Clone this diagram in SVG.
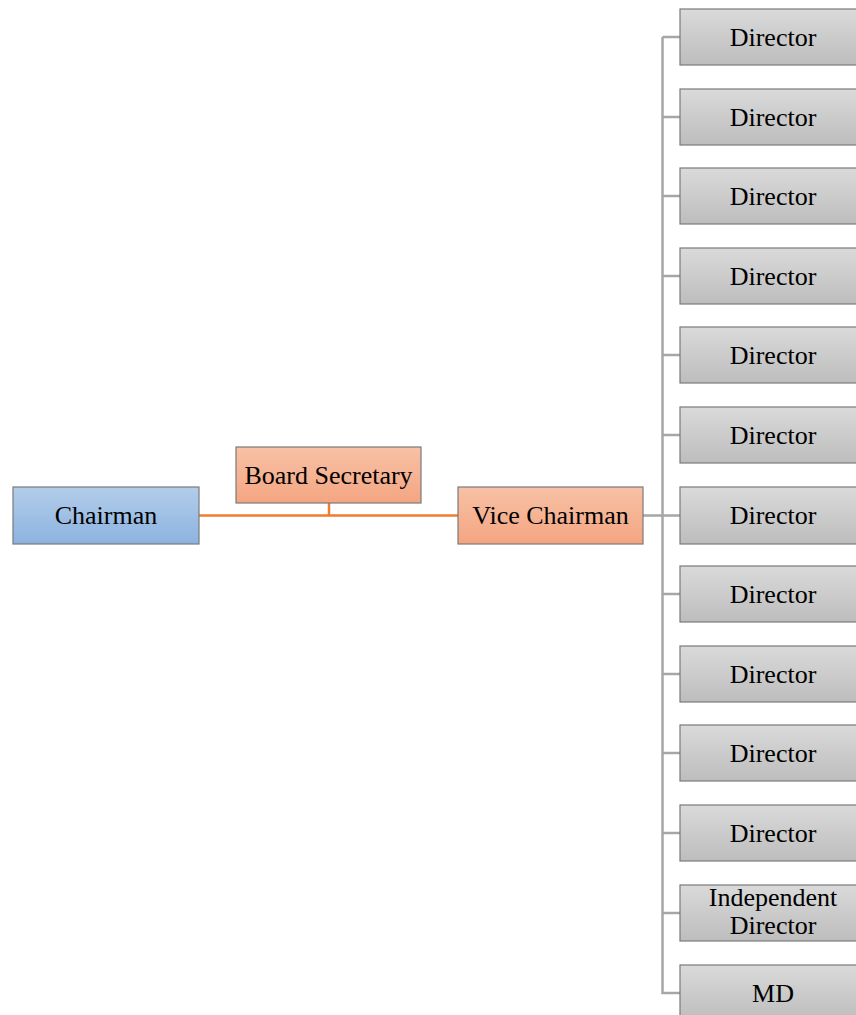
<svg xmlns="http://www.w3.org/2000/svg" width="856" height="1015" viewBox="0 0 856 1015">
<defs>
<linearGradient id="gBlue" x1="0" y1="0" x2="0" y2="1"><stop offset="0" stop-color="#b3cdea"/><stop offset="1" stop-color="#8cb3e0"/></linearGradient>
<linearGradient id="gSal" x1="0" y1="0" x2="0" y2="1"><stop offset="0" stop-color="#f8c1a6"/><stop offset="1" stop-color="#f4a582"/></linearGradient>
<linearGradient id="gGray" x1="0" y1="0" x2="0" y2="1"><stop offset="0" stop-color="#dadada"/><stop offset="1" stop-color="#bdbdbd"/></linearGradient>
</defs>
<style>
.box{stroke:#7a7a7a;stroke-width:1.2}
.t{font-family:"Liberation Serif","Times New Roman",serif;font-size:26px;fill:#000;text-anchor:middle}
.og{stroke:#ed7d31;stroke-width:2.5;fill:none}
.gr{stroke:#a6a6a6;stroke-width:2.5;fill:none}
</style>
<g id="connectors">
<path class="og" d="M199 515.5H458M329 503V515.5"/>
<path class="gr" d="M643 515.5H680M662.5 37V993H680"/>
<path class="gr" d="M662.5 37H680M662.5 117H680M662.5 196H680M662.5 276H680M662.5 355H680M662.5 435H680M662.5 594H680M662.5 674H680M662.5 753H680M662.5 833H680M662.5 913H680"/>
</g>
<g id="chairman"><rect class="box" x="13" y="487" width="186" height="57" fill="url(#gBlue)"/><text class="t" x="106" y="524">Chairman</text></g>
<g id="board-secretary"><rect class="box" x="236" y="447" width="185" height="56" fill="url(#gSal)"/><text class="t" x="328.5" y="484">Board Secretary</text></g>
<g id="vice-chairman"><rect class="box" x="458" y="487" width="185" height="57" fill="url(#gSal)"/><text class="t" x="550.5" y="524">Vice Chairman</text></g>
<g id="director1"><rect class="box" x="680" y="9" width="186" height="56" fill="url(#gGray)"/><text class="t" x="773" y="46">Director</text></g>
<g id="director2"><rect class="box" x="680" y="89" width="186" height="56" fill="url(#gGray)"/><text class="t" x="773" y="126">Director</text></g>
<g id="director3"><rect class="box" x="680" y="168" width="186" height="56" fill="url(#gGray)"/><text class="t" x="773" y="205">Director</text></g>
<g id="director4"><rect class="box" x="680" y="248" width="186" height="56" fill="url(#gGray)"/><text class="t" x="773" y="285">Director</text></g>
<g id="director5"><rect class="box" x="680" y="327" width="186" height="56" fill="url(#gGray)"/><text class="t" x="773" y="364">Director</text></g>
<g id="director6"><rect class="box" x="680" y="407" width="186" height="56" fill="url(#gGray)"/><text class="t" x="773" y="444">Director</text></g>
<g id="director7"><rect class="box" x="680" y="487" width="186" height="57" fill="url(#gGray)"/><text class="t" x="773" y="524">Director</text></g>
<g id="director8"><rect class="box" x="680" y="566" width="186" height="56" fill="url(#gGray)"/><text class="t" x="773" y="603">Director</text></g>
<g id="director9"><rect class="box" x="680" y="646" width="186" height="56" fill="url(#gGray)"/><text class="t" x="773" y="683">Director</text></g>
<g id="director10"><rect class="box" x="680" y="725" width="186" height="56" fill="url(#gGray)"/><text class="t" x="773" y="762">Director</text></g>
<g id="director11"><rect class="box" x="680" y="805" width="186" height="56" fill="url(#gGray)"/><text class="t" x="773" y="842">Director</text></g>
<g id="independent-director"><rect class="box" x="680" y="885" width="186" height="56" fill="url(#gGray)"/><text class="t" x="773" y="906">Independent</text><text class="t" x="773" y="934">Director</text></g>
<g id="md"><rect class="box" x="680" y="965" width="186" height="56" fill="url(#gGray)"/><text class="t" x="773" y="1002">MD</text></g>
</svg>
